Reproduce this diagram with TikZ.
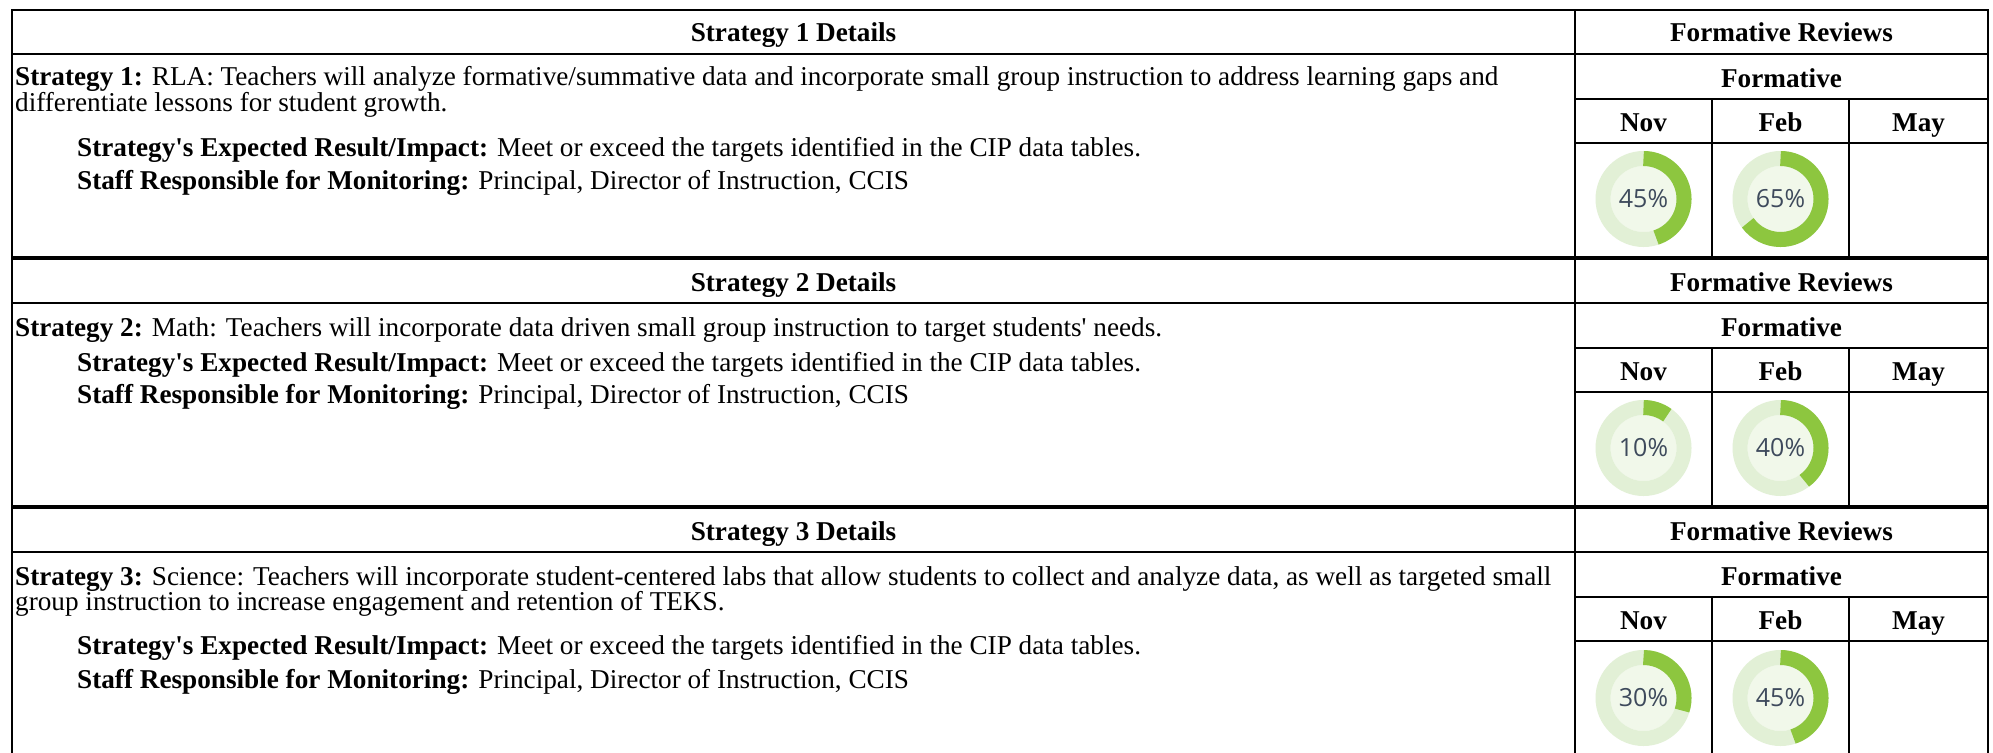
\documentclass[tikz,border=0pt]{standalone}
\usepackage{fontspec}
\setmainfont{Liberation Serif}[Ligatures=TeXOff]
\newfontfamily\donutfont{Open Sans}
\definecolor{ringbg}{HTML}{E2F0D6}
\definecolor{ringin}{HTML}{F1F8EA}
\definecolor{ringfg}{HTML}{8DC63F}
\definecolor{pcttext}{HTML}{3E4A5C}
\tikzset{
  grid/.style={line width=2pt, black, line cap=rect},
  hdr/.style={font=\fontsize{27.2}{31}\selectfont\bfseries, inner sep=0pt, anchor=base},
  body/.style={font=\fontsize{27.2}{31}\selectfont, anchor=base west, inner sep=0pt},
  pct/.style={font=\donutfont\fontsize{25}{28}\selectfont, text=pcttext, inner sep=0pt},
}
\newcommand\tblgrid[3]{% index, top, bottom
  \pgfmathsetmacro\ta{#2+44}\pgfmathsetmacro\tb{#2+89}\pgfmathsetmacro\tc{#2+133}
  \draw[grid] (12,#2) -- (1988,#2);
  \draw[grid] (12,#2) -- (12,#3);
  \draw[grid] (1575,#2) -- (1575,#3);
  \draw[grid] (1988,#2) -- (1988,#3);
  \draw[grid] (12,\ta) -- (1988,\ta);
  \draw[grid] (1575,\tb) -- (1988,\tb);
  \draw[grid] (1575,\tc) -- (1988,\tc);
  \draw[grid] (1712,\tb) -- (1712,#3);
  \draw[grid] (1849,\tb) -- (1849,#3);
  \pgfmathsetmacro\ya{#2+32}\pgfmathsetmacro\yb{#2+77}\pgfmathsetmacro\yc{#2+121}
  \node[hdr] (sd#1) at (793.5,\ya) {Strategy #1 Details};
  \node[hdr] (fr#1) at (1781.5,\ya) {Formative Reviews};
  \node[hdr] (fo#1) at (1781.5,\yb) {Formative};
  \node[hdr] (nov#1) at (1643.5,\yc) {Nov};
  \node[hdr] (feb#1) at (1780.5,\yc) {Feb};
  \node[hdr] (may#1) at (1918.5,\yc) {May};
}
\newcommand\donut[4]{% name, x, y, pct
  \fill[ringin] (#2,#3) circle (33);
  \draw[ringbg, line width=15pt] (#2,#3) circle (40.5);
  \draw[ringfg, line width=15pt] (#2,#3) ++(-90:40.5) arc[start angle=-90, end angle={-90+3.6*#4}, radius=40.5];
  \node[pct] (#1) at (#2,#3) {#4\%};
}
\begin{document}
\begin{tikzpicture}[x=1pt,y=-1pt]
\useasboundingbox (0,0) rectangle (1993,752);
\fill[white] (0,0) rectangle (1993,752);
% tables
\tblgrid{1}{10}{257}
\draw[grid] (12,257) -- (1988,257);
\tblgrid{2}{259}{506}
\draw[grid] (12,506) -- (1988,506);
\tblgrid{3}{508}{760}
% strategy 1 text
\node[body] (s1a) at (15,85) {\textbf{Strategy 1:} RLA: Teachers will analyze formative/summative data and incorporate small group instruction to address learning gaps and};
\node[body] (s1b) at (15,111) {differentiate lessons for student growth.};
\node[body] (s1c) at (77,156) {\textbf{Strategy's Expected Result/Impact:} Meet or exceed the targets identified in the CIP data tables.};
\node[body] (s1d) at (77,189) {\textbf{Staff Responsible for Monitoring:} Principal, Director of Instruction, CCIS};
% strategy 2 text
\node[body] (s2a) at (15,336) {\textbf{Strategy 2:} Math: Teachers will incorporate data driven small group instruction to target students' needs.};
\node[body] (s2c) at (77,371) {\textbf{Strategy's Expected Result/Impact:} Meet or exceed the targets identified in the CIP data tables.};
\node[body] (s2d) at (77,403) {\textbf{Staff Responsible for Monitoring:} Principal, Director of Instruction, CCIS};
% strategy 3 text
\node[body] (s3a) at (15,585) {\textbf{Strategy 3:} Science: Teachers will incorporate student-centered labs that allow students to collect and analyze data, as well as targeted small};
\node[body] (s3b) at (15,610) {group instruction to increase engagement and retention of TEKS.};
\node[body] (s3c) at (77,654) {\textbf{Strategy's Expected Result/Impact:} Meet or exceed the targets identified in the CIP data tables.};
\node[body] (s3d) at (77,688) {\textbf{Staff Responsible for Monitoring:} Principal, Director of Instruction, CCIS};
% donuts
\donut{d1n}{1643.5}{199}{45}
\donut{d1f}{1780.5}{199}{65}
\donut{d2n}{1643.5}{448}{10}
\donut{d2f}{1780.5}{448}{40}
\donut{d3n}{1643.5}{698}{30}
\donut{d3f}{1780.5}{698}{45}
\end{tikzpicture}
\end{document}
